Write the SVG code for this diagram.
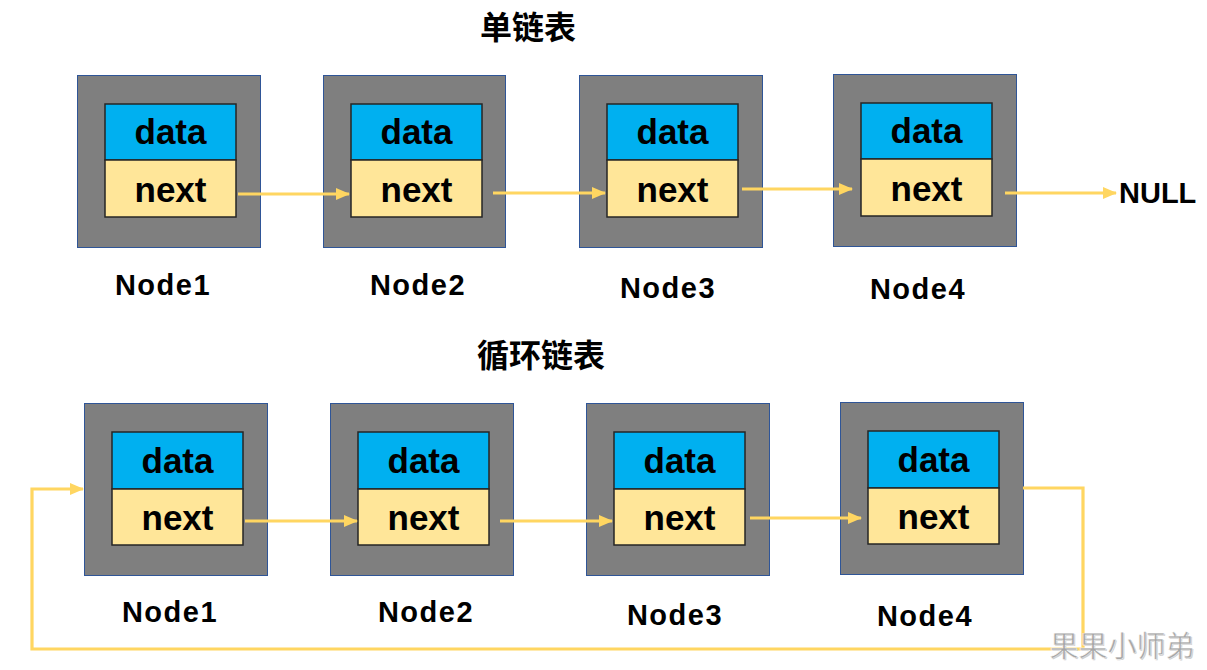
<svg xmlns="http://www.w3.org/2000/svg" width="1207" height="670" viewBox="0 0 1207 670">
<defs>
<marker id="ah" markerUnits="userSpaceOnUse" markerWidth="14" markerHeight="12" refX="13" refY="6" orient="auto">
<path d="M0,0 L14,6 L0,12 Z" fill="#ffd661"/>
</marker>
<style>
.outer{fill:#7f7f7f;stroke:#2f5597;stroke-width:1}
.data{fill:#00b0f0;stroke:#262626;stroke-width:1.5}
.next{fill:#ffe699;stroke:#262626;stroke-width:1.5}
.cell{font-family:"Liberation Sans",Arial,sans-serif;font-weight:bold;font-size:35px;fill:#000;text-anchor:middle}
.lbl{font-family:"Liberation Sans",Arial,sans-serif;font-weight:bold;font-size:29px;fill:#000;text-anchor:middle;letter-spacing:1.5px}
.title{font-family:"Noto Sans CJK SC",sans-serif;font-weight:bold;font-size:32px;fill:#000;text-anchor:middle}
.conn{fill:none;stroke:#ffd661;stroke-width:3.2}
</style>
</defs>
<rect width="1207" height="670" fill="#fff"/>
<text class="title" x="528" y="39">单链表</text>
<text class="title" x="541" y="367">循环链表</text>

<g id="t1"><rect class="outer" x="77.5" y="75.5" width="183" height="172"/><rect class="data" x="105" y="104" width="131" height="56"/><rect class="next" x="105" y="160" width="131" height="57"/><text class="cell" x="170.5" y="144">data</text><text class="cell" x="170.5" y="202">next</text><text class="lbl" x="163" y="295">Node1</text></g>
<g id="t2"><rect class="outer" x="323.5" y="75.5" width="182" height="172"/><rect class="data" x="351" y="104" width="131" height="56"/><rect class="next" x="351" y="160" width="131" height="57"/><text class="cell" x="416.5" y="144">data</text><text class="cell" x="416.5" y="202">next</text><text class="lbl" x="418" y="295">Node2</text></g>
<g id="t3"><rect class="outer" x="579.5" y="75.5" width="183" height="172"/><rect class="data" x="607" y="104" width="131" height="56"/><rect class="next" x="607" y="160" width="131" height="57"/><text class="cell" x="672.5" y="144">data</text><text class="cell" x="672.5" y="202">next</text><text class="lbl" x="668" y="298">Node3</text></g>
<g id="t4"><rect class="outer" x="833.5" y="74.5" width="183" height="172"/><rect class="data" x="861" y="103" width="131" height="56"/><rect class="next" x="861" y="159" width="131" height="57"/><text class="cell" x="926.5" y="143">data</text><text class="cell" x="926.5" y="201">next</text><text class="lbl" x="918" y="299">Node4</text></g>
<text id="null" x="1119" y="203" style="font-family:'Liberation Sans',Arial,sans-serif;font-weight:bold;font-size:29px;fill:#000">NULL</text>

<g id="b1"><rect class="outer" x="84.5" y="403.5" width="183" height="172"/><rect class="data" x="112" y="432" width="131" height="57"/><rect class="next" x="112" y="489" width="131" height="56"/><text class="cell" x="177.5" y="473">data</text><text class="cell" x="177.5" y="530">next</text><text class="lbl" x="170" y="622">Node1</text></g>
<g id="b2"><rect class="outer" x="330.5" y="403.5" width="183" height="172"/><rect class="data" x="358" y="432" width="131" height="57"/><rect class="next" x="358" y="489" width="131" height="56"/><text class="cell" x="423.5" y="473">data</text><text class="cell" x="423.5" y="530">next</text><text class="lbl" x="426" y="622">Node2</text></g>
<g id="b3"><rect class="outer" x="586.5" y="403.5" width="183" height="172"/><rect class="data" x="614" y="432" width="131" height="57"/><rect class="next" x="614" y="489" width="131" height="56"/><text class="cell" x="679.5" y="473">data</text><text class="cell" x="679.5" y="530">next</text><text class="lbl" x="675" y="625">Node3</text></g>
<g id="b4"><rect class="outer" x="840.5" y="402.5" width="183" height="172"/><rect class="data" x="868" y="431" width="131" height="57"/><rect class="next" x="868" y="488" width="131" height="56"/><text class="cell" x="933.5" y="472">data</text><text class="cell" x="933.5" y="529">next</text><text class="lbl" x="925" y="626">Node4</text></g>

<g id="connectors">
<line class="conn" x1="238" y1="194" x2="349" y2="194" marker-end="url(#ah)"/>
<line class="conn" x1="493" y1="193" x2="605" y2="193" marker-end="url(#ah)"/>
<line class="conn" x1="742" y1="189" x2="852" y2="189" marker-end="url(#ah)"/>
<line class="conn" x1="1005" y1="193" x2="1116" y2="193" marker-end="url(#ah)"/>
<line class="conn" x1="245" y1="521" x2="357" y2="521" marker-end="url(#ah)"/>
<line class="conn" x1="500" y1="521" x2="612" y2="521" marker-end="url(#ah)"/>
<line class="conn" x1="750" y1="518" x2="861" y2="518" marker-end="url(#ah)"/>
<path class="conn" d="M1023,488 H1083 V649 H32 V489 H83" marker-end="url(#ah)"/>
</g>
<g id="watermark" style="font-family:'Noto Sans CJK SC',sans-serif;font-size:29px;text-anchor:middle">
<text x="1123" y="658" fill="#d0d0d0">果果小师弟</text>
<text x="1122" y="657" fill="#a6a6a6" stroke="#fff" stroke-width="0.4">果果小师弟</text>
</g>
</svg>
